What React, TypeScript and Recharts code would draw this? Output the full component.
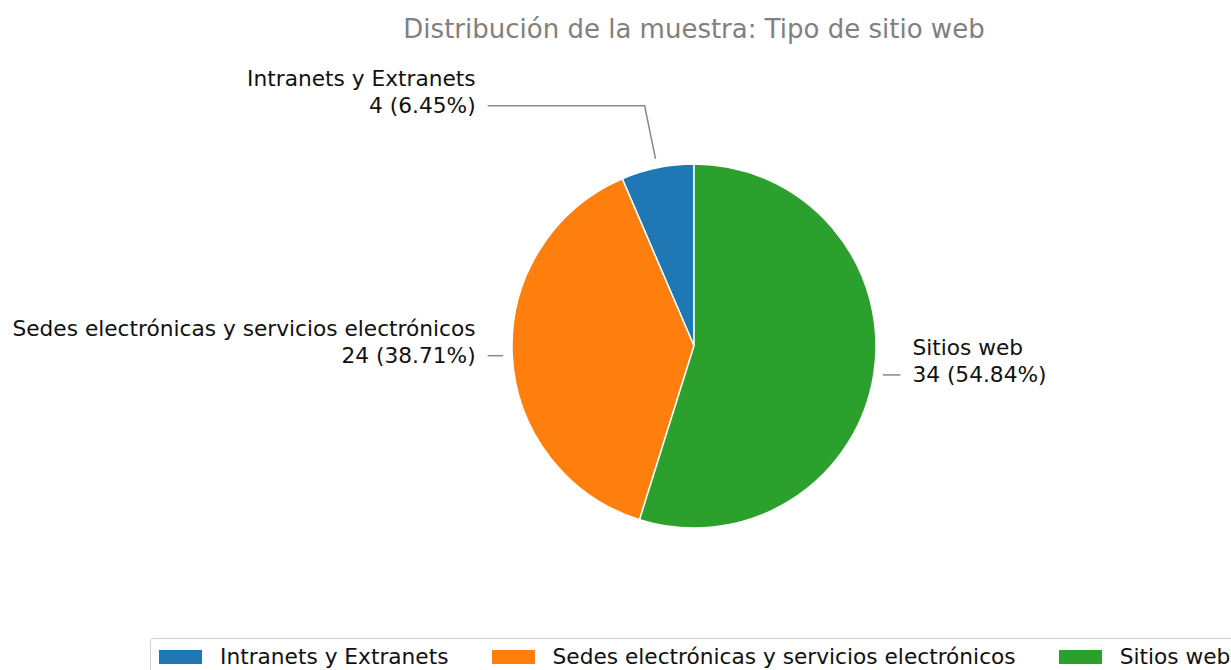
import { PieChart, Pie, Cell, Legend } from 'recharts'

const categories = ['Intranets y Extranets', 'Sedes electrónicas y servicios electrónicos', 'Sitios web']
const counts = [4, 24, 34]
const colors = ['#1f77b4', '#ff7f0e', '#2ca02c']

const title = 'Distribución de la muestra: Tipo de sitio web'

const data = categories.map((name, i) => ({ name, value: counts[i] }))

const RADIAN = Math.PI / 180
const FONT = '"DejaVu Sans", sans-serif'
const TEXT_SIZE = 21.7

const renderLabel = (props: any) => {
  const { cx, cy, midAngle, outerRadius, percent, value, name } = props
  const cos = Math.cos(-midAngle * RADIAN)
  const sin = Math.sin(-midAngle * RADIAN)
  // point just outside the wedge
  const px = cx + outerRadius * 1.05 * cos
  const py = cy + outerRadius * 1.05 * sin
  // small slices get their label lifted away from the pie
  const labelY = percent < 0.1 ? py - 53 : py
  const ex = sin !== 0 ? cx + ((labelY - cy) / sin) * cos : px
  const right = cos >= 0
  const textX = cx + (right ? 1 : -1) * outerRadius * 1.2
  const lineEnd = textX + (right ? -12 : 12)
  return (
    <g>
      <polyline
        points={`${px},${py} ${ex},${labelY} ${lineEnd},${labelY}`}
        fill="none"
        stroke="#888"
        strokeWidth={1.5}
      />
      <text
        x={textX}
        textAnchor={right ? 'start' : 'end'}
        fontFamily={FONT}
        fontSize={TEXT_SIZE}
        fill="#111"
      >
        <tspan x={textX} y={labelY - 27.5} dominantBaseline="central">{name}</tspan>
        <tspan x={textX} y={labelY} dominantBaseline="central">
          {`${value} (${(percent * 100).toFixed(2)}%)`}
        </tspan>
      </text>
    </g>
  )
}

const renderLegend = () => (
  <div
    style={{
      display: 'flex',
      alignItems: 'center',
      border: '1px solid #d0d0d0',
      borderRadius: 4,
      padding: '5px 8px',
      fontFamily: FONT,
      fontSize: TEXT_SIZE,
      lineHeight: '25px',
      color: '#111',
      whiteSpace: 'nowrap',
    }}
  >
    {categories.map((c, i) => (
      <div key={c} style={{ display: 'flex', alignItems: 'center', marginRight: 43 }}>
        <span style={{ width: 43, height: 14, background: colors[i], marginRight: 18, display: 'inline-block' }} />
        <span>{c}</span>
      </div>
    ))}
  </div>
)

export default function App() {
  return (
    <div style={{ position: 'absolute', left: 0, top: 0, width: 1231, height: 670, overflow: 'hidden', background: '#fff' }}>
      <div
        style={{
          position: 'absolute',
          top: 14,
          left: 344,
          width: 700,
          textAlign: 'center',
          fontFamily: FONT,
          fontSize: 26,
          lineHeight: '30px',
          color: '#808080',
        }}
      >
        {title}
      </div>
      <PieChart width={1231} height={670} margin={{ top: 0, right: 0, bottom: 0, left: 0 }}>
        <Pie
          data={data}
          dataKey="value"
          nameKey="name"
          cx={694}
          cy={346}
          outerRadius={182}
          startAngle={90}
          endAngle={450}
          stroke="#fff"
          strokeWidth={1.5}
          label={renderLabel}
          labelLine={false}
          isAnimationActive={false}
        >
          {data.map((d, i) => (
            <Cell key={d.name} fill={colors[i]} />
          ))}
        </Pie>
        <Legend content={renderLegend} wrapperStyle={{ left: 150, top: 638, width: 1130 }} />
      </PieChart>
    </div>
  )
}
